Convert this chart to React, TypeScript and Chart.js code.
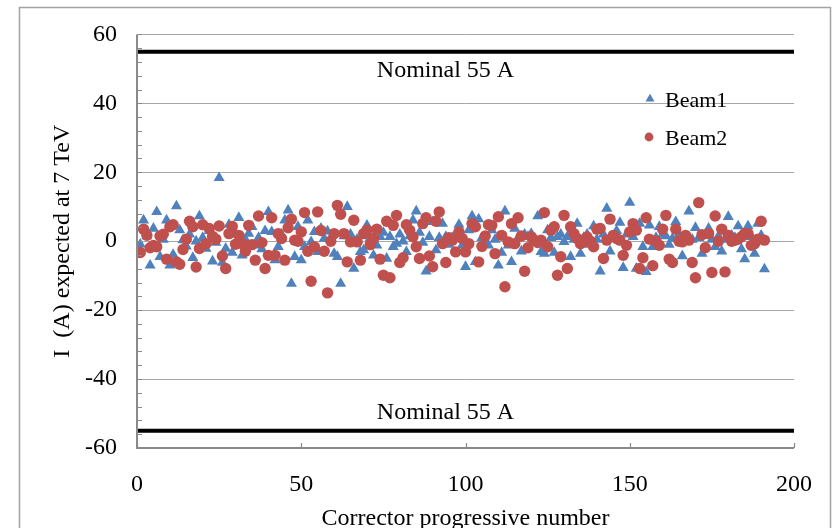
import React, { useEffect, useRef } from "react";
import { Chart, registerables } from "chart.js";

Chart.register(...registerables);

// Expected corrector current (A) at 7 TeV, one value per corrector (1..191)
const beam1: number[] = [
  -0.9, 6.1, 1.5, -7.0, 3.7, 8.5, -4.5, 0.5, 6.1, -7.0,
  -3.9, 10.2, 3.2, 0.3, -1.5, 2.0, -4.8, 0.0, 7.3, 1.0,
  -2.1, 3.0, -5.8, -0.4, 18.4, -6.2, -2.1, 4.8, -3.3, 2.0,
  6.8, -4.1, 0.5, 2.2, 4.2, -1.2, 1.0, -2.3, 3.0, 8.5,
  2.7, -5.5, -1.6, 2.0, 6.1, 9.0, -12.3, -4.5, 4.2, -5.5,
  -1.6, 6.1, -0.2, 2.7, -3.1, 3.7, 0.8, 2.9, 1.0, -3.6,
  -4.5, -12.3, 1.5, 10.0, 2.0, -7.9, 0.5, -3.1, -2.6, 4.6,
  1.0, -4.1, -1.2, 1.3, 2.5, -5.0, 1.3, -1.6, -0.7, 2.0,
  0.0, -3.1, 1.5, 6.1, 8.7, 2.5, -0.4, -8.7, 1.3, 5.6,
  -2.6, 1.0, 5.1, 1.3, -1.0, 1.0, 2.0, 4.8, -1.2, -7.4,
  3.2, 7.3, -6.0, 6.4, 1.0, -0.7, -1.2, 3.2, 0.5, -7.0,
  -3.3, 8.7, -1.2, -6.0, 3.7, 1.0, -2.9, 2.0, 1.3, 2.2,
  0.5, 7.3, -3.1, -3.6, 3.2, 1.0, -3.3, 1.3, 2.0, -0.2,
  1.3, -4.5, 0.5, 5.1, -3.6, 1.0, 2.0, -1.0, 4.4, 0.5,
  -8.7, 2.0, 9.5, -2.9, 1.0, 3.0, 5.4, -7.7, 2.0, 11.2,
  1.3, -7.9, 5.1, -1.6, -8.9, 4.6, -1.6, 1.0, 4.2, 1.9,
  1.5, -1.0, 0.8, 5.6, 2.0, -4.3, 1.0, 8.7, 0.5, 3.9,
  1.0, -3.6, 2.0, 3.7, 0.5, -1.6, 1.5, -2.9, 0.5, 7.1,
  1.7, 1.0, 4.4, -2.3, -5.2, 4.4, 1.3, -3.6, 5.1, 1.7,
  -8.1,
];

const beam2: number[] = [
  -3.3, 3.5, 1.7, -1.9, -1.2, -1.6, 1.5, 2.0, -5.2, 4.2,
  4.8, -6.0, -6.7, -2.4, 0.6, 5.8, 4.2, -7.5, -2.1, 4.8,
  -0.7, 3.7, 1.4, 0.6, 4.4, -4.3, -7.9, 2.2, 4.3, -0.9,
  1.7, -0.7, -2.9, 4.6, -1.0, -5.5, 7.3, -0.4, -7.9, -4.1,
  6.8, -4.1, 2.2, 0.8, -5.5, 3.9, 6.4, 0.3, 0.0, 2.7,
  8.3, -2.9, -11.6, -1.6, 8.5, 3.1, -2.9, -15.0, 0.0, 2.2,
  10.4, 7.8, 2.2, -6.0, -0.2, 6.1, -0.2, -5.5, 2.2, 3.2,
  -1.0, 0.8, 3.5, -5.2, -9.9, 5.8, -10.6, 4.6, 7.5, -6.2,
  -4.8, 4.8, 3.2, 1.3, -1.6, -5.0, 5.1, 6.8, -4.3, -7.4,
  5.8, 8.5, -0.7, -6.2, 1.0, 0.3, -3.1, 2.7, 0.8, -3.1,
  -0.7, 5.1, 4.2, -6.0, -1.5, 1.5, 4.8, 4.6, -3.6, 7.1,
  1.7, -13.2, -0.2, 5.1, -0.7, 6.8, 1.5, -8.7, -1.9, 1.3,
  0.3, -0.4, 0.3, 8.3, -1.6, 3.2, 4.2, -9.9, -4.5, 7.5,
  -7.9, 4.2, 2.2, 0.8, -0.7, -0.2, 1.2, 0.0, -1.6, 3.5,
  3.7, -5.0, 0.3, 6.4, 1.7, 0.8, 0.3, -4.1, -1.2, 2.7,
  5.1, 3.2, -7.9, -4.8, 6.8, 0.6, -7.1, 0.0, -1.2, 3.5,
  7.5, -5.2, -6.2, 3.5, 0.0, -0.2, 1.7, 0.3, -6.2, -10.6,
  11.2, 1.9, -1.9, 2.2, -9.1, 7.3, 0.0, 3.5, -8.9, 1.7,
  0.0, 0.3, 0.6, 1.3, 2.2, 2.2, -1.2, -0.7, 0.6, 5.8,
  0.3,
];

const seriesNames = ["Beam1", "Beam2"];
const nominalCurrent = 55;
const nominalLabel = "Nominal 55 A";
const xTickValues = [0, 50, 100, 150, 200];
const xTitle = "Corrector progressive number";
const yTitle = "I  (A) expected at 7 TeV";

const SERIF = '"Liberation Serif", "Times New Roman", serif';
const BLUE = "#4f81bd";
const RED = "#c0504d";
const W = 834;
const H = 532;

function triangle(ctx: CanvasRenderingContext2D, x: number, y: number, r: number) {
  ctx.beginPath();
  for (let k = 0; k < 3; k++) {
    const a = -Math.PI / 2 + (k * 2 * Math.PI) / 3;
    const px = x + Math.cos(a) * r;
    const py = y + Math.sin(a) * r;
    if (k === 0) ctx.moveTo(px, py);
    else ctx.lineTo(px, py);
  }
  ctx.closePath();
  ctx.fill();
}

const decorations = {
  id: "decorations",
  beforeDraw(chart: any) {
    const ctx: CanvasRenderingContext2D = chart.ctx;
    ctx.save();
    ctx.fillStyle = "#ffffff";
    ctx.fillRect(0, 0, chart.width, chart.height);
    // outer chart frame
    ctx.strokeStyle = "#a3a3a3";
    ctx.lineWidth = 1.5;
    ctx.strokeRect(19.5, 7.5, 811, chart.height + 20);
    ctx.restore();
  },
  afterDraw(chart: any) {
    const ctx: CanvasRenderingContext2D = chart.ctx;
    const a = chart.chartArea;
    const xs = chart.scales.x;
    const ys = chart.scales.y;
    ctx.save();

    // axis lines
    ctx.strokeStyle = "#8a8a8a";
    ctx.lineWidth = 2;
    ctx.beginPath();
    ctx.moveTo(a.left, a.top);
    ctx.lineTo(a.left, a.bottom);
    ctx.lineTo(a.right, a.bottom);
    ctx.stroke();

    // inner tick marks
    ctx.lineWidth = 1.2;
    ctx.beginPath();
    for (let v = ys.min; v <= ys.max; v += 4) {
      const py = Math.round(ys.getPixelForValue(v)) + 0.5;
      ctx.moveTo(a.left, py);
      ctx.lineTo(a.left + 5, py);
    }
    for (const t of xTickValues) {
      const px = Math.round(xs.getPixelForValue(t)) + 0.5;
      ctx.moveTo(px, a.bottom);
      ctx.lineTo(px, a.bottom - 5);
    }
    ctx.stroke();

    // limit labels
    ctx.fillStyle = "#000";
    ctx.font = `24px ${SERIF}`;
    ctx.textAlign = "center";
    ctx.textBaseline = "alphabetic";
    const cx = (a.left + a.right) / 2 - 20;
    ctx.fillText(nominalLabel, cx, ys.getPixelForValue(nominalCurrent) + 25);
    ctx.fillText(nominalLabel, cx, ys.getPixelForValue(-nominalCurrent) - 12);

    // legend
    ctx.font = `22px ${SERIF}`;
    ctx.textAlign = "left";
    ctx.fillStyle = BLUE;
    triangle(ctx, 650, 99, 5.2);
    ctx.fillStyle = RED;
    ctx.beginPath();
    ctx.arc(649, 137, 4.4, 0, Math.PI * 2);
    ctx.fill();
    ctx.fillStyle = "#000";
    ctx.fillText(seriesNames[0], 665, 107);
    ctx.fillText(seriesNames[1], 665, 145);

    ctx.restore();
  },
};

export default function App() {
  const ref = useRef<HTMLCanvasElement | null>(null);

  useEffect(() => {
    if (!ref.current) return;
    const toPoints = (arr: number[]) => arr.map((v, i) => ({ x: i + 1, y: v }));
    const limitLine = (v: number) => [
      { x: 0, y: v },
      { x: 200, y: v },
    ];
    const chart = new Chart(ref.current, {
      type: "scatter",
      data: {
        datasets: [
          {
            label: seriesNames[1],
            data: toPoints(beam2),
            pointStyle: "circle",
            pointRadius: 5.7,
            backgroundColor: RED,
            borderColor: RED,
            borderWidth: 0,
            order: 0,
          },
          {
            label: seriesNames[0],
            data: toPoints(beam1),
            pointStyle: "triangle",
            pointRadius: 6.4,
            backgroundColor: BLUE,
            borderColor: BLUE,
            borderWidth: 0,
            order: 1,
          },
          {
            type: "line",
            label: "upper",
            data: limitLine(nominalCurrent),
            borderColor: "#000",
            borderWidth: 4,
            pointRadius: 0,
            order: 2,
          } as any,
          {
            type: "line",
            label: "lower",
            data: limitLine(-nominalCurrent),
            borderColor: "#000",
            borderWidth: 4,
            pointRadius: 0,
            order: 2,
          } as any,
        ],
      },
      options: {
        responsive: false,
        animation: false,
        devicePixelRatio: 1,
        layout: { padding: { left: 0, right: 34, top: 34, bottom: 0 } },
        plugins: {
          legend: { display: false },
          tooltip: { enabled: false },
        },
        scales: {
          x: {
            type: "linear",
            min: 0,
            max: 200,
            afterBuildTicks: (s: any) => {
              s.ticks = xTickValues.map((v) => ({ value: v }));
            },
            ticks: {
              font: { family: SERIF, size: 24, lineHeight: 1.2 },
              color: "#000",
              padding: 22,
              maxRotation: 0,
            },
            grid: { display: false, drawTicks: false },
            border: { display: false },
            title: {
              display: true,
              text: xTitle,
              color: "#000",
              font: { family: SERIF, size: 24, lineHeight: 1 },
              padding: { top: 0, bottom: 1 },
            },
            afterFit: (s: any) => {
              s.height = H - 448;
            },
          },
          y: {
            type: "linear",
            min: -60,
            max: 60,
            ticks: {
              stepSize: 20,
              font: { family: SERIF, size: 24 },
              color: "#000",
              padding: 20,
            },
            grid: { color: "#a6a6a6", lineWidth: 1, drawTicks: false },
            border: { display: false },
            title: {
              display: true,
              text: yTitle,
              color: "#000",
              font: { family: SERIF, size: 24, lineHeight: 1 },
              padding: { top: 51, bottom: 0 },
            },
            afterFit: (s: any) => {
              s.width = 137;
            },
          },
        },
      },
      plugins: [decorations],
    });
    return () => chart.destroy();
  }, []);

  return (
    <div
      style={{
        position: "fixed",
        left: 0,
        top: 0,
        width: W,
        height: 528,
        overflow: "hidden",
        background: "#fff",
      }}
    >
      <canvas ref={ref} width={W} height={H} style={{ display: "block", width: W, height: H }} />
    </div>
  );
}
